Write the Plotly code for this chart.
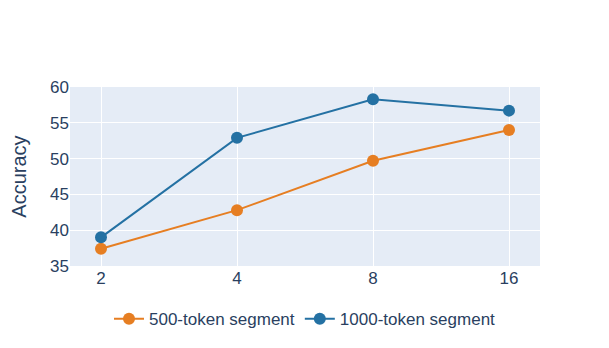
import plotly.graph_objects as go

# segment counts and accuracy per setting
segments = [2, 4, 8, 16]
acc_500 = [37.4, 42.8, 49.7, 54.0]
acc_1000 = [39.0, 52.9, 58.3, 56.7]

fig = go.Figure()

fig.add_trace(go.Scatter(
    x=segments, y=acc_500, mode='lines+markers', name='500-token segment',
    line=dict(color='#e67e22', width=2), marker=dict(size=12)
))
fig.add_trace(go.Scatter(
    x=segments, y=acc_1000, mode='lines+markers', name='1000-token segment',
    line=dict(color='#2471a3', width=2), marker=dict(size=12)
))

# page body adds 8px, so the figure is a bit smaller than the window
fig.update_layout(
    width=601, height=340,
    template='plotly',
    font=dict(family='Liberation Sans, Arial, sans-serif', size=17, color='#2a3f5f'),
    margin=dict(l=62, r=69, t=79, b=81),
    xaxis=dict(type='log', tickvals=segments, ticktext=[str(s) for s in segments],
               automargin=False),
    yaxis=dict(title=dict(text='Accuracy', font=dict(size=20), standoff=28),
               range=[35, 60], dtick=5, automargin=False),
    legend=dict(orientation='h', x=0.5, xanchor='center', y=-0.19, yanchor='top'),
)

fig.write_html("out.html")
